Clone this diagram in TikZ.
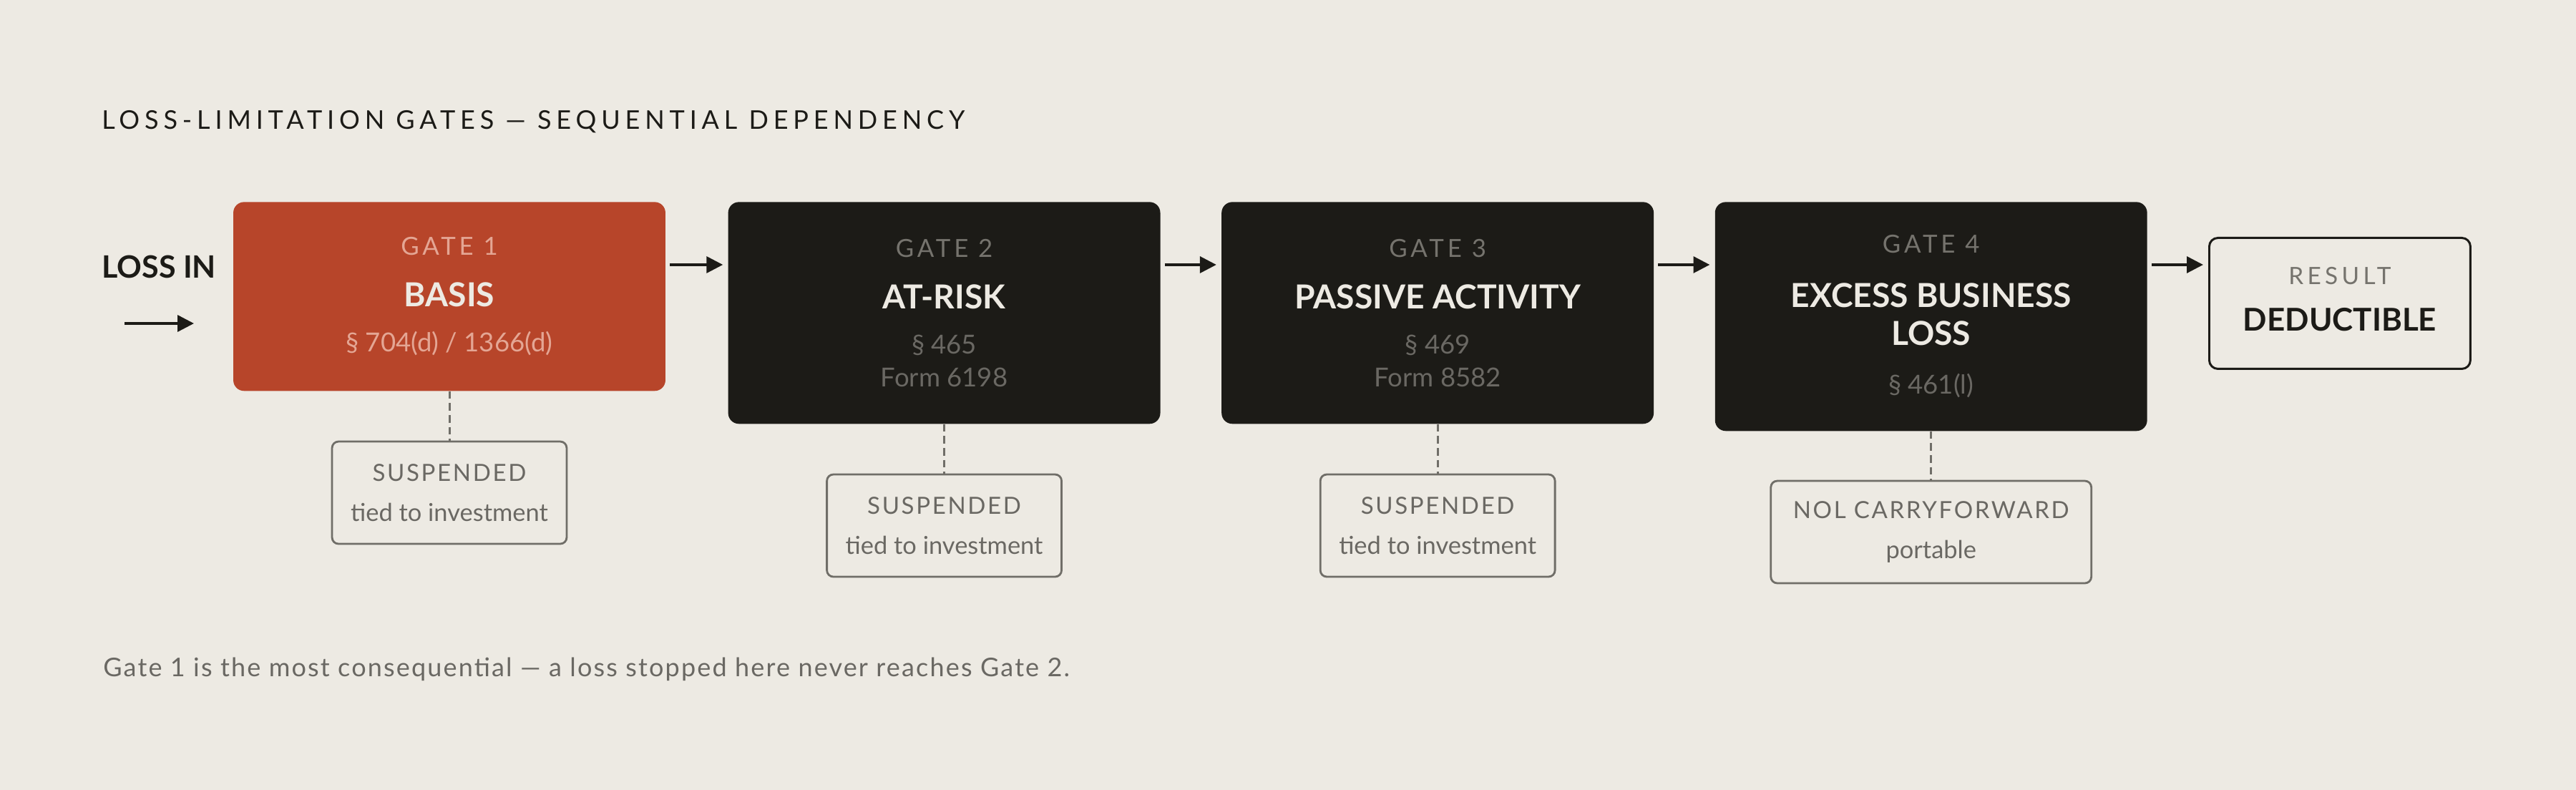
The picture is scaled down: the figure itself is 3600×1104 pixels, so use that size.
\documentclass[tikz,border=0pt]{standalone}
\usepackage{fontspec}
\setmainfont{Lato}
\usetikzlibrary{positioning,arrows.meta}

\definecolor{paper}{HTML}{EDEAE3}
\definecolor{ink}{HTML}{1C1B17}
\definecolor{rust}{HTML}{B7452A}
\definecolor{rustpale}{HTML}{E4A694}
\definecolor{mute}{HTML}{75736D}
\definecolor{mutedark}{HTML}{6A6863}
\definecolor{edge}{HTML}{706E68}

\newcommand\gatetag[1]{{\fontsize{19.8}{26}\selectfont\addfontfeature{LetterSpace=14}#1}}
\newcommand\gatename[1]{{\fontsize{26.3}{26}\selectfont\bfseries #1}}
\newcommand\gatecode[1]{{\fontsize{20.8}{26}\selectfont #1}}

\tikzset{
	gate/.style={fill=ink, rounded corners=0.3cm, minimum width=12.08cm, inner sep=0pt, align=center, text=paper, font=\fontsize{19}{26}\selectfont},
	first/.style={gate, fill=rust},
	susp/.style={draw=edge, line width=1.6pt, rounded corners=0.18cm, minimum width=6.56cm, minimum height=2.86cm, inner sep=0pt, align=center, text=mutedark, font=\fontsize{19.6}{26}\selectfont},
	flow/.style={draw=ink, line width=2pt, -{Triangle[length=13pt,width=13pt]}, shorten <=3.4pt, shorten >=4pt},
	link/.style={draw=edge, line width=1.7pt, dash pattern=on 6pt off 3.5pt}
}

\begin{document}
\begin{tikzpicture}[x=0.02cm,y=-0.02cm]
	%BACKGROUND
	\fill[paper] (0,0) rectangle (3600,1104);
	\useasboundingbox (0,0) rectangle (3600,1104);

	%TITLE
	\node[anchor=base west, inner sep=0pt, text=ink, font=\fontsize{20.5}{24}\selectfont\addfontfeature{LetterSpace=19}] (title) at (142,181) {LOSS-LIMITATION GATES — SEQUENTIAL DEPENDENCY};

	%INPUT
	\node[anchor=base west, inner sep=0pt, text=ink, font=\fontsize{24.5}{26}\selectfont\bfseries] (lossin) at (142,389) {LOSS IN};
	\coordinate (inA) at (174,452);
	\coordinate (inB) at (271,452);
	\draw[flow, shorten <=0pt, shorten >=0pt] (inA) -- (inB);

	%GATES
	\node[first, anchor=north, minimum height=5.28cm] (gate1) at (628,282)
		{\textcolor{rustpale}{\gatetag{GATE 1}}\\[15pt]\gatename{BASIS}\\[10pt]\textcolor{rustpale}{\gatecode{§ 704(d) / 1366(d)}}};
	\node[gate, anchor=north west, minimum height=6.2cm] (gate2) at ([xshift=1.74cm]gate1.north east)
		{\textcolor{mute}{\gatetag{GATE 2}}\\[15pt]\gatename{AT-RISK}\\[10pt]\textcolor{mutedark}{\gatecode{§ 465}}\\\textcolor{mutedark}{\gatecode{Form 6198}}};
	\node[gate, anchor=north west, minimum height=6.2cm] (gate3) at ([xshift=1.7cm]gate2.north east)
		{\textcolor{mute}{\gatetag{GATE 3}}\\[15pt]\gatename{PASSIVE ACTIVITY}\\[10pt]\textcolor{mutedark}{\gatecode{§ 469}}\\\textcolor{mutedark}{\gatecode{Form 8582}}};
	\node[gate, anchor=north west, minimum height=6.4cm] (gate4) at ([xshift=1.7cm]gate3.north east)
		{\textcolor{mute}{\gatetag{GATE 4}}\\[17pt]\gatename{EXCESS BUSINESS}\\[4pt]\gatename{LOSS}\\[13pt]\textcolor{mutedark}{\gatecode{§ 461(l)}}};

	%RESULT
	\node[draw=ink, line width=1.7pt, rounded corners=0.24cm, anchor=north west, minimum width=7.3cm, minimum height=3.66cm, inner sep=0pt, align=center, font=\fontsize{19}{26}\selectfont] (res) at ([xshift=1.7cm,yshift=-0.98cm]gate4.north east)
		{\textcolor{mute}{{\addfontfeature{LetterSpace=16}RESULT}}\\[11pt]\textcolor{ink}{\fontsize{25}{26}\selectfont\bfseries DEDUCTIBLE}\\[-19.4pt]\mbox{}};

	%FLOW ARROWS
	\foreach \a/\b in {gate1/gate2,gate2/gate3,gate3/gate4}
	\draw[flow] ([yshift=-1.76cm]\a.north east) -- ([yshift=-1.76cm]\b.north west);
	\coordinate (out4) at ([yshift=-1.76cm]gate4.north east);
	\draw[flow] (out4) -- (out4 -| res.west);

	%OUTCOMES
	\foreach \i in {1,2,3}
	\node[susp, below=1.38cm of gate\i] (susp\i) {{\fontsize{18.8}{26}\selectfont\addfontfeature{LetterSpace=8}SUSPENDED}\\[6pt]tied to investment};
	\node[susp, minimum width=8.96cm, below=1.36cm of gate4] (susp4) {{\fontsize{18.8}{26}\selectfont\addfontfeature{LetterSpace=8}NOL CARRYFORWARD}\\[6pt]portable};
	\foreach \i in {1,...,4}
	\draw[link] (gate\i.south) -- (susp\i.north);

	%NOTE
	\node[anchor=base west, inner sep=0pt, text=mutedark, font=\fontsize{20.5}{24}\selectfont\addfontfeature{LetterSpace=6}] (note) at (144,945) {Gate 1 is the most consequential — a loss stopped here never reaches Gate 2.};
\end{tikzpicture}
\end{document}
